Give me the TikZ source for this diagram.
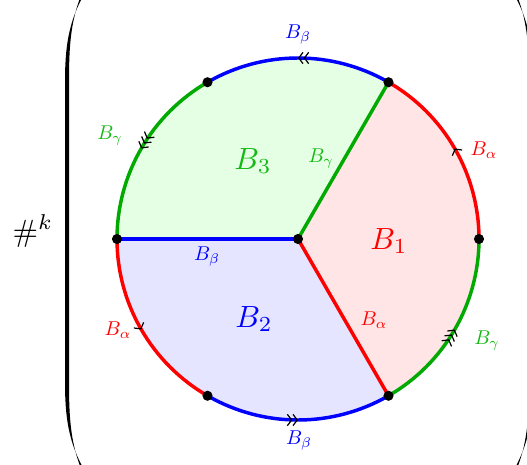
\documentclass[tikz,border=0pt]{standalone}
\usetikzlibrary{decorations.markings,arrows.meta}
\definecolor{mygreen}{RGB}{0,170,0}
\definecolor{lblgreen}{RGB}{20,185,20}
\definecolor{myred}{RGB}{255,0,0}
\definecolor{myblue}{RGB}{0,0,255}
\tikzset{
  edge/.style={line width=2.6pt},
  big/.style={scale=2.3,transform shape},
  small/.style={scale=1.5,transform shape},
  barb/.tip={Straight Barb[length=3.2pt,width=8.5pt,line width=0.9pt]},
  mone/.style={postaction={decorate},decoration={markings,mark=at position 0.5 with {\arrow[black]{barb}}}},
  mtwo/.style={postaction={decorate},decoration={markings,mark=at position 0.5 with {\arrow[black]{barb[]barb[]}}}},
  mthree/.style={postaction={decorate},decoration={markings,mark=at position 0.5 with {\arrow[black]{barb[]barb[]barb[]}}}},
  dot/.style={fill=black},
}
\begin{document}
\begin{tikzpicture}[x=0.75pt,y=0.75pt]
\useasboundingbox (0,0) rectangle (527,464);
\def\R{135.75pt}
\coordinate (O) at (298,225);
\coordinate (v0) at ([shift={(0:\R)}]O);
\coordinate (v60) at ([shift={(60:\R)}]O);
\coordinate (v120) at ([shift={(120:\R)}]O);
\coordinate (v180) at ([shift={(180:\R)}]O);
\coordinate (v240) at ([shift={(240:\R)}]O);
\coordinate (v300) at ([shift={(300:\R)}]O);
% sector fills
\fill[red!10] (O) -- (v300) arc[start angle=-60,end angle=60,radius=\R] -- cycle;
\fill[green!10] (O) -- (v60) arc[start angle=60,end angle=180,radius=\R] -- cycle;
\fill[blue!10] (O) -- (v180) arc[start angle=180,end angle=300,radius=\R] -- cycle;
% radii
\draw[edge,mygreen] (O) -- (v60);
\draw[edge,myblue] (O) -- (v180);
\draw[edge,myred] (O) -- (v300);
% arcs
\draw[edge,myred,mone] (v0) arc[start angle=0,end angle=60,radius=\R];
\draw[edge,myblue,mtwo] (v60) arc[start angle=60,end angle=120,radius=\R];
\draw[edge,mygreen,mthree] (v120) arc[start angle=120,end angle=180,radius=\R];
\draw[edge,myred,mone] (v180) arc[start angle=180,end angle=240,radius=\R];
\draw[edge,myblue,mtwo] (v240) arc[start angle=240,end angle=300,radius=\R];
\draw[edge,mygreen,mthree] (v300) arc[start angle=300,end angle=360,radius=\R];
% dots
\foreach \p in {O,v0,v60,v120,v180,v240,v300} \fill[dot] (\p) circle[radius=3.8pt];
% region labels
\node[big,text=lblgreen] (b3) at (253,303) {$B_3$};
\node[big,text=myred] (b1) at (389,223) {$B_1$};
\node[big,text=myblue] (b2) at (254,145) {$B_2$};
% edge labels
\node[small,text=lblgreen] (lg1) at (321,305) {$B_\gamma$};
\node[small,text=myblue] (lb1) at (207,207) {$B_\beta$};
\node[small,text=myred] (la1) at (374,144) {$B_\alpha$};
\node[small,text=myblue] (lb2) at (298,429) {$B_\beta$};
\node[small,text=lblgreen] (lg2) at (110,328) {$B_\gamma$};
\node[small,text=myred] (la2) at (484,314) {$B_\alpha$};
\node[small,text=myred] (la3) at (118,134) {$B_\alpha$};
\node[small,text=lblgreen] (lg3) at (487,123) {$B_\gamma$};
\node[small,text=myblue] (lb3) at (299,23) {$B_\beta$};
% prefactor
\node[big] (hk) at (33,233) {$\#^k$};
% parentheses
\fill (82,466) .. controls (68.5,440) and (65,417) .. (65,382) -- (65,82) .. controls (65,47) and (68.5,24) .. (82,-2)
  -- (80,-2) .. controls (70.5,24) and (69,47) .. (69,82) -- (69,382) .. controls (69,417) and (70.5,440) .. (80,466) -- cycle;
\fill (516,466) .. controls (529.5,440) and (533,417) .. (533,382) -- (533,82) .. controls (533,47) and (529.5,24) .. (516,-2)
  -- (518,-2) .. controls (527.5,24) and (529,47) .. (529,82) -- (529,382) .. controls (529,417) and (527.5,440) .. (518,466) -- cycle;
\end{tikzpicture}
\end{document}
